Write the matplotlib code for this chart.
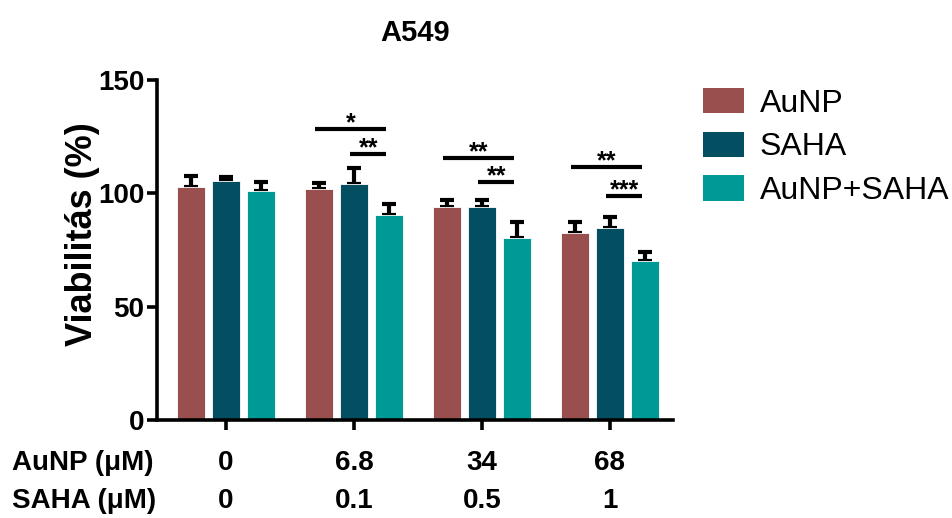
import matplotlib
matplotlib.use("Agg")
import matplotlib.pyplot as plt
import numpy as np
from matplotlib.patches import Patch
import matplotlib.transforms as mtransforms

plt.rcParams['font.family'] = ['Liberation Sans', 'DejaVu Sans']

# ---- data ----
aunp_labels = ["0", "6.8", "34", "68"]
saha_labels = ["0", "0.1", "0.5", "1"]
series_names = ["AuNP", "SAHA", "AuNP+SAHA"]
colors = ["#9A4F4F", "#034E60", "#009A96"]
means = {
    "AuNP":      [102.9, 101.7, 94.1, 82.6],
    "SAHA":      [105.6, 104.1, 93.8, 84.6],
    "AuNP+SAHA": [101.2, 90.4, 80.4, 70.0],
}
errs = {
    "AuNP":      [4.7, 2.7, 2.9, 4.9],
    "SAHA":      [1.7, 7.2, 3.2, 4.8],
    "AuNP+SAHA": [3.9, 4.9, 7.1, 4.0],
}
# significance brackets: group index, left series idx, right series idx, y level, label
sig_group = [1, 1, 2, 2, 3, 3]
sig_left = [0, 1, 0, 1, 0, 1]
sig_right = [2, 2, 2, 2, 2, 2]
sig_y = [128.2, 117.2, 115.4, 105.1, 111.8, 99.0]
sig_text = ["*", "**", "**", "**", "**", "***"]

# ---- layout ----
W, H = 952, 518
fig = plt.figure(figsize=(W / 100, H / 100), dpi=100)
ax = fig.add_axes([157 / W, 1 - 420 / H, (673 - 157) / W, (420 - 80) / H])

x = np.arange(len(aunp_labels))
pitch = 35 / 128
bw = 28 / 128
offsets = [-pitch, 0, pitch]

for i, name in enumerate(series_names):
    xs = x + offsets[i]
    ax.bar(xs, means[name], width=bw, color=colors[i], edgecolor='white',
           linewidth=0.6, zorder=2)
    ax.errorbar(xs, means[name], yerr=[np.zeros(len(x)), errs[name]], fmt='none',
                ecolor='black', elinewidth=3.0, capsize=5, capthick=3.0, zorder=1)

for g, l, r, yv, t in zip(sig_group, sig_left, sig_right, sig_y, sig_text):
    x0 = g + offsets[l] - 0.03
    x1 = g + offsets[r] - 0.02
    ax.plot([x0, x1], [yv, yv], color='black', lw=3.0, solid_capstyle='butt', zorder=3)
    ax.text((x0 + x1) / 2, yv - 0.6, t, ha='center', va='baseline', fontsize=18,
            fontweight='bold', zorder=3)

ax.set_xlim((157 - 226) / 128, (673 - 226) / 128)
ax.set_ylim(0, 150)
ax.set_yticks([0, 50, 100, 150])
ax.set_xticks(x)
ax.set_xticklabels([])
for s in ['top', 'right']:
    ax.spines[s].set_visible(False)
for s in ['left', 'bottom']:
    ax.spines[s].set_linewidth(2.6)
ax.tick_params(axis='both', width=2.6, length=7, labelsize=20)
ax.tick_params(axis='y', pad=2)
for lab in ax.get_yticklabels():
    lab.set_fontweight('bold')

ax.set_ylabel("Viabilitás (%)", fontsize=26, fontweight='bold')
ax.yaxis.set_label_coords((100 - 157) / 516, (420 - 234) / 340)
ax.set_title("A549", fontsize=21, fontweight='bold', pad=28, x=0.5)

trans = mtransforms.blended_transform_factory(ax.transData, ax.transAxes)
row1 = (420 - 463) / 340
row2 = (420 - 501) / 340
for xi, a, s in zip(x, aunp_labels, saha_labels):
    ax.text(xi, row1, a, transform=trans, ha='center', va='center', fontsize=20,
            fontweight='bold')
    ax.text(xi, row2, s, transform=trans, ha='center', va='center', fontsize=20,
            fontweight='bold')
fig.text(12 / W, 1 - 463 / H, "AuNP (μM)", ha='left', va='center', fontsize=20,
         fontweight='bold')
fig.text(12 / W, 1 - 501 / H, "SAHA (μM)", ha='left', va='center', fontsize=20,
         fontweight='bold')

handles = [Patch(facecolor=c, edgecolor='none') for c in colors]
fig.legend(handles, series_names, loc='upper left', bbox_to_anchor=(703 / W, 1 - 88 / H),
           frameon=False, fontsize=23, handlelength=1.28, handleheight=0.85,
           handletextpad=0.5, labelspacing=0.4, borderpad=0, borderaxespad=0)

fig.savefig("out.png", dpi=100)
